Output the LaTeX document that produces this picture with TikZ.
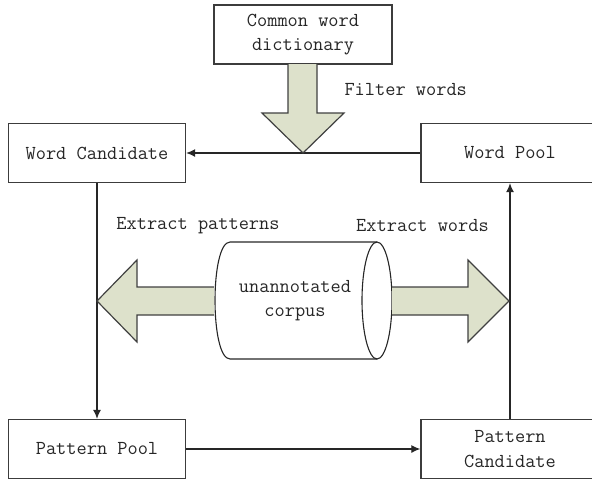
\documentclass[tikz,border=0pt]{standalone}
\usetikzlibrary{arrows.meta}

\definecolor{boxline}{RGB}{60,60,60}
\definecolor{fatfill}{RGB}{221,225,203}

\begin{document}
\begin{tikzpicture}[x=1pt,y=-1pt,
    txt/.style={font=\ttfamily\fontsize{19.8}{24.5}\selectfont, text=black!85},
    box/.style={txt, draw=boxline, line width=1.3pt, align=center,
                minimum width=177pt, minimum height=59pt, inner sep=0pt},
    flow/.style={draw=black!85, line width=1.2pt, -{Latex[length=9pt,width=8pt]}},
    fatarrow/.style={draw=black!75, line width=1.2pt, fill=fatfill, line join=miter},
    cyl/.style={draw=black!85, line width=1.1pt}]

  \useasboundingbox (0,0) rectangle (592,480);

  % Boxes
  \node[box, minimum width=178pt] (dict)  at (303,34.5)  {Common word\\dictionary};
  \node[box] (wordcand) at (97,153) {Word Candidate};
  \node[box, minimum width=178pt] (wordpool) at (510,153)   {Word Pool};
  \node[box] (patpool)  at (97,449) {Pattern Pool};
  \node[box, minimum width=178pt] (patcand)  at (510,449) {Pattern\\Candidate};

  % Corpus
  \draw[cyl] (377,242) -- (230,242) .. controls (210,242) and (210,359) .. (230,359) -- (377,359);
  \draw[cyl] (377,300.5) ellipse [x radius=15pt, y radius=58.5pt];
  \node[txt, align=center] (corpus) at (295,300.5) {unannotated\\corpus};

  % Labels
  \node[txt, anchor=west] (filt) at (341,90) {Filter words};
  \node[txt] (expat) at (198,226) {Extract patterns};
  \node[txt] (exwd)  at (422.5,226) {Extract words};

  % Cycle
  \draw[flow] (wordpool.west) -- (wordcand.east);
  \draw[flow] (wordcand.south) -- (patpool.north);
  \draw[flow] (patpool.east) -- (patcand.west);
  \draw[flow] (patcand.north) -- (wordpool.south);

  % Fat arrows
  \draw[fatarrow] (288,64) -- (288,113) -- (262,113) -- (303,153)
      -- (344,113) -- (317,113) -- (317,64);
  \draw[fatarrow] (214,287) -- (137,287) -- (137,260) -- (97,301)
      -- (137,342) -- (137,315) -- (214,315);
  \draw[fatarrow] (392,287) -- (468,287) -- (468,260) -- (509,301)
      -- (468,342) -- (468,315) -- (392,315);
\end{tikzpicture}
\end{document}
